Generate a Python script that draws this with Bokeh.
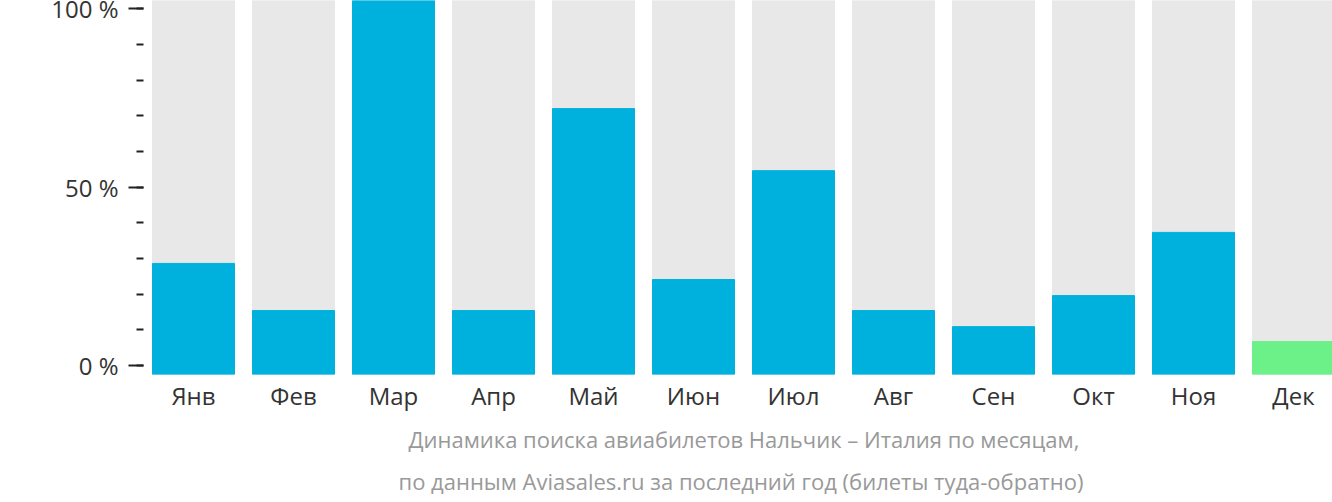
from bokeh.plotting import figure
from bokeh.models import Range1d, LinearAxis, FixedTicker, Title, ColumnDataSource
from bokeh.embed import file_html
from bokeh.resources import INLINE

months = ["Янв", "Фев", "Мар", "Апр", "Май", "Июн", "Июл", "Авг", "Сен", "Окт", "Ноя", "Дек"]
values = [29.7, 17.1, 100, 17.1, 71.1, 25.4, 54.5, 17.1, 12.8, 21.1, 38.0, 8.8]
colors = ["#00B1DD"] * 11 + ["#6CF088"]
y_ticks = [0, 50, 100]
y_tick_labels = ["0 %", "50 %", "100 %"]
title_lines = ["Динамика поиска авиабилетов Нальчик – Италия по месяцам,",
               "по данным Aviasales.ru за последний год (билеты туда-обратно)"]

xs = list(range(1, len(months) + 1))
src = ColumnDataSource(dict(x=xs, top=values, color=colors, full=[100] * len(xs)))

p = figure(width=1332, height=512, output_backend="svg", toolbar_location=None,
           x_range=Range1d(0.5, 12.39), y_range=Range1d(0, 100),
           min_border_left=143, min_border_right=0, min_border_top=10, min_border_bottom=128,
           y_axis_location=None, margin=(-10, 0, 0, 0))
p.outline_line_color = None
p.grid.visible = False
p.background_fill_color = "white"
p.border_fill_color = "white"

p.vbar(x="x", width=0.82, bottom=0, top="full", source=src, color="#E8E8E8")
p.vbar(x="x", width=0.82, bottom=0, top="top", source=src, color="color")

p.extra_y_ranges = {"pct": Range1d(-2.52, 102.38)}
ax = LinearAxis(y_range_name="pct")
ax.ticker = FixedTicker(ticks=y_ticks, minor_ticks=list(range(0, 101, 10)))
ax.major_label_overrides = {t: l for t, l in zip(y_ticks, y_tick_labels)}
ax.axis_line_color = None
ax.major_tick_line_color = "#222222"
ax.minor_tick_line_color = "#222222"
ax.major_tick_line_width = 2
ax.minor_tick_line_width = 2
ax.major_tick_out = 15
ax.major_tick_in = 0
ax.minor_tick_out = 7
ax.minor_tick_in = 0
ax.major_label_standoff = 10
ax.major_label_text_font = "Open Sans"
ax.major_label_text_font_size = "24px"
ax.major_label_text_color = "#333333"
p.add_layout(ax, "left")

xa = p.xaxis[0]
xa.ticker = FixedTicker(ticks=xs)
xa.major_label_overrides = {x: m for x, m in zip(xs, months)}
xa.axis_line_color = None
xa.major_tick_line_color = None
xa.minor_tick_line_color = None
xa.major_label_standoff = -2
xa.major_label_text_font = "Open Sans"
xa.major_label_text_font_size = "24px"
xa.major_label_text_color = "#333333"

for line, off, so in zip(title_lines, [265, 255], [15, 5]):
    p.add_layout(Title(text=line, align="left", offset=off, standoff=so,
                       text_font="Open Sans", text_font_size="22px",
                       text_font_style="normal", text_color="#999999"), "below")

open("out.html", "w").write(file_html(p, INLINE))
